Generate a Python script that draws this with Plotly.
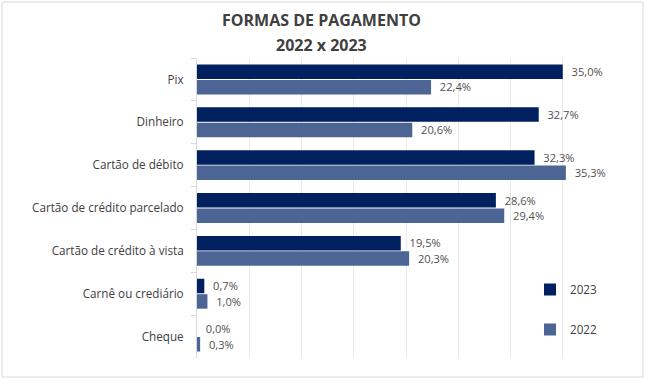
import plotly.graph_objects as go

categories = ["Pix", "Dinheiro", "Cartão de débito", "Cartão de crédito parcelado",
              "Cartão de crédito à vista", "Carnê ou crediário", "Cheque"]
values_2023 = [35.0, 32.7, 32.3, 28.6, 19.5, 0.7, 0.0]
values_2022 = [22.4, 20.6, 35.3, 29.4, 20.3, 1.0, 0.3]
series_names = ["2023", "2022"]

FONT = "Open Sans"
TXT = "#404040"

fig = go.Figure()
for name, vals, col in [(series_names[0], values_2023, "#002060"),
                        (series_names[1], values_2022, "#4D6594")]:
    fig.add_trace(go.Bar(
        y=categories, x=vals, name=name, orientation="h",
        marker=dict(color=col, line=dict(width=0)),
        texttemplate="\u00a0\u00a0%{x:.1f}%", textposition="outside",
        textfont=dict(family=FONT, size=11.5, color="#505050"),
        cliponaxis=False, legendgroup=name, hoverinfo="skip",
    ))

L, R, T, B = 197, 35, 58, 26
W, H = 650, 384
pw, ph = W - L - R, H - T - B

def px(x):
    return (x - L) / pw

def py(y):
    return (H - B - y) / ph

fig.update_layout(
    width=W, height=H,
    margin=dict(l=L, r=R, t=T, b=B, autoexpand=False),
    paper_bgcolor="white", plot_bgcolor="white",
    separators=",.",
    barmode="group", bargap=0.28, bargroupgap=0.06,
    font=dict(family=FONT, size=11, color=TXT),
    xaxis=dict(range=[0, 40], dtick=5, showticklabels=False, showgrid=True,
               gridcolor="#e8e8e8", gridwidth=1, zeroline=False, showline=False),
    yaxis=dict(autorange="reversed", showline=True, linecolor="#d9d9d9",
               ticks="outside", tickson="boundaries", ticklen=5, tickcolor="#d9d9d9",
               ticklabelstandoff=10, automargin=False,
               tickfont=dict(family=FONT, size=11.7, color=TXT), showgrid=False),
    legend=dict(x=px(530), y=py(275), xanchor="left", yanchor="top",
                bgcolor="rgba(0,0,0,0)", tracegroupgap=21, traceorder="grouped",
                font=dict(family=FONT, size=11.7, color=TXT), itemwidth=30),
    showlegend=True,
    annotations=[
        dict(text="<b>FORMAS DE PAGAMENTO</b>", xref="paper", yref="paper",
             x=px(321), y=py(20), xanchor="center", yanchor="middle", showarrow=False,
             font=dict(family=FONT, size=16, color=TXT)),
        dict(text="<b>2022 x 2023</b>", xref="paper", yref="paper",
             x=px(321), y=py(45), xanchor="center", yanchor="middle", showarrow=False,
             font=dict(family=FONT, size=16, color=TXT)),
    ],
    shapes=[dict(type="rect", xref="paper", yref="paper",
                 x0=px(2), x1=px(643), y0=py(377), y1=py(2),
                 line=dict(color="#d9d9d9", width=1), fillcolor="rgba(0,0,0,0)", layer="below")],
)

fig.write_html("out.html", config={"displayModeBar": False},
               post_script="document.body.style.margin='0';")
